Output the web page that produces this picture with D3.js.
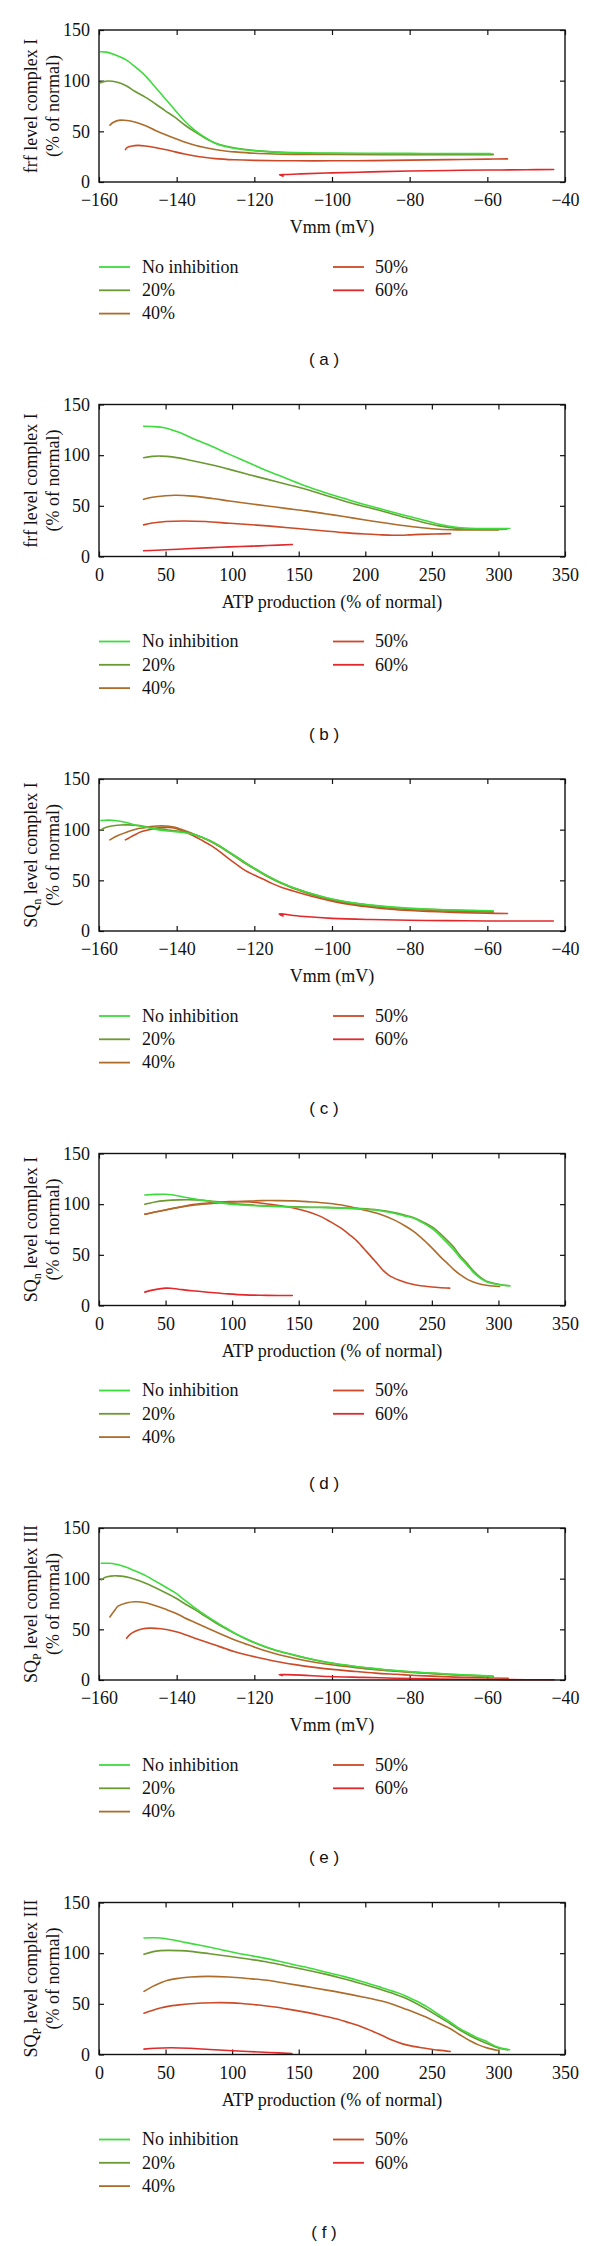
<!DOCTYPE html>
<html><head><meta charset="utf-8">
<script src="https://cdn.jsdelivr.net/npm/d3@7"></script>
<style>
body{margin:0;background:#fff;}
svg text{font-family:"Liberation Serif","Times New Roman",serif;fill:#111;}
</style>
</head><body>
<svg id="chart" width="600" height="2246"></svg>
<script>
// ---------- tick values ----------
const vmmTicks = [-160,-140,-120,-100,-80,-60,-40];
const atpTicks = [0,50,100,150,200,250,300,350];
const yTicks = [0,50,100,150];
const seriesNames = ["No inhibition","20%","40%","50%","60%"];
const panelLabels = ["a","b","c","d","e","f"];

// ---------- (a) frf level complex I vs Vmm ----------
const a_none = [[-159.6,128.6],[-158,128.2],[-155.9,125.6],[-153,120.5],[-150.8,114],[-148,104.5],[-145.6,94],[-143,82.5],[-140.4,70.9],[-138,60.5],[-135.3,51],[-132.5,43.5],[-130.1,38.3],[-127.5,35],[-125,33],[-122,31.6],[-119.8,30.8],[-115,29.7],[-109.5,29],[-100,28.5],[-90,28.3],[-80,28.2],[-70,28.1],[-59.2,28]];
const a_20 = [[-159.6,97.8],[-159,98.8],[-157.6,99.6],[-155.5,98.6],[-153,95],[-150.8,89.5],[-148,83.5],[-145.6,77.5],[-143,70.5],[-140.4,63.7],[-138,56.5],[-135.3,49.4],[-132.5,43],[-130.1,38.5],[-127.5,35.5],[-125,33.5],[-122,32],[-119.8,31],[-115,29.5],[-110,28.6],[-100,28],[-90,27.8],[-80,27.6],[-70,27.5],[-58.5,27.4]];
const a_40 = [[-157.2,56],[-156.5,58.5],[-155,60.8],[-153.5,61],[-150.8,59.3],[-148,55.5],[-145.6,51.1],[-143,46.8],[-140.4,42.9],[-138,39.5],[-135.3,36.3],[-132.5,33.8],[-130.1,32],[-127.5,30.6],[-125,29.7],[-120,28.3],[-115,27.6],[-110,27.3],[-100,27.1],[-80,27],[-58.5,27]];
const a_50 = [[-153.2,32],[-152.8,34],[-151.5,35.6],[-149.9,36.1],[-148,35.5],[-145.6,34],[-143,32],[-140.4,29.7],[-138,27.6],[-135.3,25.7],[-132.5,24.2],[-130.1,23.1],[-125,21.9],[-120,21.3],[-110,20.9],[-100,20.9],[-90,21.1],[-80,21.6],[-70,22.1],[-60,22.6],[-54.8,22.8]];
const a_60 = [[-112.6,5.8],[-113.5,7.0],[-112,7.4],[-108,8.0],[-100,9.0],[-90,10.0],[-80,10.8],[-70,11.4],[-60,11.8],[-50,12.1],[-42.9,12.3]];

// ---------- (b) frf level complex I vs ATP ----------
const b_none = [[33.5,128.6],[40,128.3],[49.3,127],[60,122.5],[69.3,117.2],[85,108.5],[98,100.8],[115,91],[126.6,84.3],[140,77.5],[155.3,69.6],[170,63],[183.9,57.4],[200,51],[212.5,46.6],[230,40.5],[241.2,36.8],[255.5,31.8],[269.8,28.6],[284.2,27.6],[300,27.5],[308.5,27.6]];
const b_20 = [[33.5,97.5],[40,98.8],[46.4,99.1],[55,98.3],[69.3,94.8],[85,90.3],[98,86],[112,81],[126.6,76.1],[140,71.5],[155.3,66.3],[170,60.5],[183.9,54.8],[200,49],[212.5,45],[230,38.5],[241.2,34.5],[255.5,30.2],[269.8,27.6],[285,26.8],[300,26.8],[306,27]];
const b_40 = [[33.5,56.4],[40,58.5],[50,60],[57.9,60.4],[70,59.6],[85,57.3],[98,54.8],[112,52.3],[126.6,49.9],[140,47.5],[155.3,45],[170,42.2],[183.9,39.4],[200,36],[212.5,33.5],[230,30.3],[241.2,28.6],[255.5,26.9],[269.8,26.3],[285,26.2],[300,26.3]];
const b_50 = [[33.5,31.2],[40,33],[50,34.5],[63.6,35.1],[80,34.5],[98,32.8],[112,31.6],[126.6,30.2],[140,28.6],[155.3,26.9],[170,25.2],[183.9,23.6],[200,22.2],[212.5,21.3],[221,21],[232,21.3],[241.2,21.8],[252,22.2],[264.1,22.6]];
const b_60 = [[33.5,5.6],[50,6.6],[69.3,7.9],[85,8.8],[98,9.5],[115,10.2],[126.6,10.8],[145.2,11.8]];

// ---------- (c) SQn level complex I vs Vmm ----------
const c_none = [[-159.5,109],[-157.5,109.4],[-155.9,109],[-153,107],[-150.8,104.7],[-148,102.3],[-145.6,100.5],[-143,99],[-140.4,98.1],[-138,97],[-136.1,95.8],[-133.5,92.5],[-131,88.2],[-128.8,83.5],[-126.7,78.3],[-124.5,72.8],[-122.4,67.4],[-120.2,62.2],[-118.1,57.5],[-116,53],[-113.8,48.8],[-111.5,45],[-109.5,42],[-105,36.5],[-100,31.5],[-95,28],[-90,25.5],[-85,23.8],[-80,22.5],[-70,21],[-58.7,20]];
const c_20 = [[-159.5,99.8],[-158.5,101.8],[-156.8,103.7],[-154.5,104.6],[-152.5,104.7],[-150,104.2],[-148.2,103],[-146,101.7],[-143.9,100.5],[-141,99.2],[-138.7,98.1],[-136.1,96],[-133.5,92.6],[-131,88.4],[-128.8,83.6],[-126.7,78.4],[-124.5,73],[-122.4,67.6],[-120.2,62.4],[-118.1,57.6],[-116,53.1],[-113.8,48.9],[-111.5,45.1],[-109.5,42.1],[-105,36.4],[-100,31.3],[-95,27.8],[-90,25.3],[-85,23.5],[-80,22.2],[-70,20.7],[-58.5,19.6]];
const c_40 = [[-157.2,89.9],[-155,94.5],[-152.5,98.1],[-150.5,100.5],[-148.2,102],[-146,103.3],[-143.9,103.7],[-142,103.4],[-140.4,102.4],[-138.5,100],[-136.1,96.5],[-133.5,92.4],[-131,87.8],[-128.8,83],[-126.7,77.8],[-124.5,72.3],[-122.4,66.9],[-120.2,61.8],[-118.1,57],[-116,52.5],[-113.8,48.3],[-111.5,44.5],[-109.5,41.4],[-105,35.6],[-100,30.6],[-95,27],[-90,24.4],[-85,22.5],[-80,21.2],[-70,19.6],[-58.5,18.6]];
const c_50 = [[-153.2,89.9],[-151,94.5],[-149,98.1],[-146.5,100.5],[-143.9,102],[-142,102.2],[-140.4,101.5],[-138.5,98.8],[-136.1,94.8],[-133.5,89.5],[-131,84],[-128.8,78],[-126.7,71.7],[-124.5,65.5],[-122.4,59.8],[-120.2,55.5],[-118.1,51.9],[-115.5,47],[-112.9,43],[-110,39.5],[-105,34],[-100,29.5],[-95,26],[-90,23.5],[-85,21.5],[-80,20.2],[-70,18.5],[-60,17.5],[-54.8,17.2]];
const c_60 = [[-112.6,14.8],[-113.6,16.8],[-112,16.6],[-110.5,15.6],[-107,14.3],[-100,12.5],[-90,11.3],[-80,10.6],[-70,10.2],[-60,9.9],[-50,9.8],[-43,9.8]];

// ---------- (d) SQn level complex I vs ATP ----------
const d_none = [[34.4,109.1],[42,109.7],[49.8,109.8],[56,109],[62.3,107.4],[70,105.5],[79.7,103.5],[90,101.5],[99.6,99.9],[110,98.9],[122,98.3],[135,97.6],[146.9,97],[160,96.7],[171.8,96.6],[185,96],[196.7,95.3],[210,93.8],[221.6,91.1],[230,88.2],[236.5,86.1],[244,81],[251.5,74.6],[259,65],[266.4,54.9],[271,47.5],[276.3,40.1],[281,33],[286.3,27],[291,23.5],[296.3,21.4],[302,20.2],[308.7,19.4]];
const d_20 = [[34.4,99.9],[42,102.2],[49.8,103.5],[60,104.2],[72.2,104.2],[82,103.3],[92.2,101.9],[105,100],[122,98.6],[135,98],[146.9,97.4],[160,97],[171.8,96.8],[185,96.2],[196.7,95.6],[210,94.2],[221.6,91.7],[230,89],[236.5,86.5],[244,82],[251.5,76.3],[259,67.5],[266.4,57.6],[271,49.5],[276.3,41.8],[281,34.5],[286.3,28],[291,24],[296.3,22],[302,20.5],[307.2,19.7]];
const d_40 = [[34.4,90],[42,92.2],[49.8,94.3],[60,96.8],[72.2,99.2],[85,100.8],[97.6,101.9],[110,102.8],[122,103.5],[135,103.5],[146.9,103.2],[160,102.2],[171.8,100.9],[185,98.5],[196.7,95],[210,90.5],[221.6,84.5],[230,78.5],[236.5,72.9],[244,64.5],[251.5,54.9],[256.5,48],[261.5,41.8],[266.5,35.5],[271.4,30.3],[277,25.5],[283.9,22],[292,19.8],[300.9,18.7]];
const d_50 = [[34.4,90],[42,92.2],[49.8,94.3],[60,97],[72.2,99.9],[85,101.5],[97.6,102.5],[109.6,102.5],[118,101.7],[127,100.2],[137,98.3],[146.9,96],[157,92.5],[166.8,87.7],[174,82.5],[181.8,76.3],[188,70],[194.2,63.1],[199,56],[204.2,48.5],[208,42.8],[211.3,37.8],[214.2,33.6],[217.3,30.3],[221,27.5],[225.5,25],[231.5,22.3],[238,20.3],[246.5,18.8],[255,17.8],[263.4,17.1]];
const d_60 = [[34.4,13.2],[40,15.2],[49.8,17.1],[54,17],[59.7,16.1],[70,14.5],[84.7,12.8],[97,11.5],[109.6,10.5],[122,10.1],[134.4,9.9],[145.2,9.9]];

// ---------- (e) SQp level complex III vs Vmm ----------
const e_none = [[-159.4,115.2],[-157.5,115.2],[-155.9,114.5],[-153.5,112],[-150.8,107.8],[-148,103],[-145.6,97.8],[-143,92],[-140.4,86.2],[-138,79],[-135.3,71.2],[-132.7,64.2],[-130.1,57.8],[-127.5,51.8],[-125,46.2],[-122.4,41.2],[-119.8,36.8],[-115,30],[-109.5,24.5],[-104.5,20],[-99.2,16.2],[-94,13.4],[-88.8,11.2],[-83.5,9.3],[-78.5,7.8],[-73,6.5],[-68.2,5.5],[-63,4.6],[-58.7,3.8]];
const e_20 = [[-159.4,98.8],[-158.5,101.2],[-157,102.5],[-155.5,102.8],[-153,101.8],[-150.8,99.5],[-148,95.5],[-145.6,91.2],[-143,86.3],[-140.4,81.2],[-138,75.5],[-135.3,69.5],[-132.7,63],[-130.1,56.8],[-127.5,51],[-125,45.8],[-122.4,41],[-119.8,36.5],[-115,29.8],[-109.5,24.3],[-104.5,19.8],[-99.2,16],[-94,13.2],[-88.8,11],[-83.5,9.1],[-78.5,7.6],[-73,6.3],[-68.2,5.3],[-63,4.4],[-58.5,3.6]];
const e_40 = [[-157.2,62.2],[-156,68.5],[-155.1,72.8],[-153,76],[-150.8,77.2],[-148,76.3],[-145.6,73.5],[-143,70],[-140.4,66.2],[-138,61.5],[-135.3,56.8],[-132.7,52.3],[-130.1,47.8],[-127.5,43.5],[-125,39.5],[-122.4,35.8],[-119.8,32.2],[-115,26.3],[-109.5,21.2],[-104.5,17.5],[-99.2,14.5],[-94,12.2],[-88.8,10.2],[-83.5,8.6],[-78.5,7.2],[-73,6],[-68.2,5],[-63,4.1],[-58.5,3.5]];
const e_50 = [[-152.9,41.2],[-152,45],[-150.8,47.8],[-149,50.3],[-146.9,51.2],[-144,50.5],[-140.4,47.8],[-138,45],[-135.3,41.2],[-132.7,37.8],[-130.1,34.5],[-127.5,31],[-125,27.8],[-122.4,25.2],[-119.8,22.8],[-115,18.8],[-109.5,15.2],[-104.5,12.5],[-99.2,10.2],[-94,8.4],[-88.8,6.8],[-83.5,5.6],[-78.5,4.5],[-73,3.6],[-68.2,2.8],[-62,2.2],[-54.6,1.8]];
const e_60 = [[-112.8,4.4],[-113.6,5.4],[-112,5.3],[-108,4.8],[-100.9,3.5],[-92,2.6],[-83.7,1.8],[-75,1.2],[-66.5,0.8],[-55,0.4],[-42.8,0.2]];

// ---------- (f) SQp level complex III vs ATP ----------
const f_none = [[33.8,115],[40,115.2],[45.9,115],[55,113.2],[63.1,111],[75,108],[86.1,105.1],[95,102.5],[103.3,100.2],[115,97.3],[126.2,94.6],[140,90.6],[154.9,86.3],[170,81.5],[183.6,77.1],[198,71.8],[212.3,66],[221,62.3],[229.5,58.3],[238,53],[246.7,46.8],[255,39.5],[263.9,31.9],[271,25.5],[278.3,20.5],[284,16.5],[289.7,13.8],[295,10],[300,7.2],[304,5.8],[308.4,4.6]];
const f_20 = [[33.8,98.9],[40,101.3],[46,102.5],[51.6,102.8],[60,102.5],[68.8,101.8],[83,99.5],[97.5,96.9],[112,94.2],[126.2,91.3],[140,87.6],[154.9,83.7],[170,79.3],[183.6,74.8],[198,69.5],[212.3,63.9],[221,60.2],[229.5,56],[238,50.5],[246.7,44.1],[255,37.5],[263.9,30.3],[271,24.2],[278.3,18.8],[284,15],[290,11.5],[295,8.8],[300,6.5],[304,5.2],[307,4.6]];
const f_40 = [[33.8,62.3],[40,67],[46,70.5],[51.6,73.2],[60,75.2],[68.8,76.5],[81.8,77.1],[97.5,76.5],[112,75],[126.2,73.2],[140,70.3],[154.9,67.2],[170,63.8],[183.6,60.6],[198,56.8],[212.3,52.7],[221,49.3],[229.5,45.2],[238,41],[246.7,36.3],[255,31],[263.9,25.4],[271,19.5],[278.3,13.8],[285,9.5],[292,6.3],[299.8,4]];
const f_50 = [[33.8,40.8],[40,43.5],[46,45.8],[51.6,47.5],[60,49],[68.8,50.1],[86.1,51.1],[100,50.9],[109,50.1],[120,48.8],[132,46.8],[143,44.5],[154.9,41.8],[166,38.8],[177.9,35.3],[188,31.3],[197.9,27],[205,23.2],[212.3,19],[220,14.2],[228,10.5],[236,8],[245,6.2],[255,4.3],[263.9,3]];
const f_60 = [[33.8,5.3],[42,6.2],[54.5,6.6],[68,6.1],[83.2,4.9],[97,4],[111.9,3],[128,2],[144.9,1]];

// ---------- styling (not data) ----------
const colors = ["#3ddc3d","#6b9a32","#ad6c2a","#cc4a28","#e2282a"];
const left = 99, right = 565, plotH = 152, firstTop = 30, pitch = 374.5;

const panels = [
  {xType:"vmm", title:["frf level complex I"], sub:false, series:[a_none,a_20,a_40,a_50,a_60]},
  {xType:"atp", title:["frf level complex I"], sub:false, series:[b_none,b_20,b_40,b_50,b_60]},
  {xType:"vmm", title:["SQ","n"," level complex I"], sub:true, series:[c_none,c_20,c_40,c_50,c_60]},
  {xType:"atp", title:["SQ","n"," level complex I"], sub:true, series:[d_none,d_20,d_40,d_50,d_60]},
  {xType:"vmm", title:["SQ","P"," level complex III"], sub:true, series:[e_none,e_20,e_40,e_50,e_60]},
  {xType:"atp", title:["SQ","P"," level complex III"], sub:true, series:[f_none,f_20,f_40,f_50,f_60]}
];

const svg = d3.select("#chart");
svg.append("rect").attr("width",600).attr("height",2246).attr("fill","#fff");

panels.forEach((p,i)=>{
  const top = firstTop + i*pitch, bottom = top + plotH;
  const g = svg.append("g");
  const x = p.xType==="vmm"
    ? d3.scaleLinear().domain([-160,-40]).range([left,right])
    : d3.scaleLinear().domain([0,350]).range([left,right]);
  const xt = p.xType==="vmm" ? vmmTicks : atpTicks;
  const y = d3.scaleLinear().domain([0,150]).range([bottom,top]);

  const fmt = d => (d<0 ? "\u2212"+Math.abs(d) : String(d));
  const styleAxis = sel => {
    sel.select(".domain").remove();
    sel.selectAll("line").attr("stroke","#111").attr("stroke-width",1.2);
    sel.selectAll("text").attr("font-family","Liberation Serif, serif").attr("font-size",18).attr("fill","#111");
  };
  g.append("g").attr("transform",`translate(0,${bottom})`)
    .call(d3.axisBottom(x).tickValues(xt).tickFormat(fmt).tickSize(-5).tickPadding(11.5)).call(styleAxis);
  g.append("g").attr("transform",`translate(0,${top})`)
    .call(d3.axisTop(x).tickValues(xt).tickFormat("").tickSize(-5)).call(styleAxis);
  g.append("g").attr("transform",`translate(${left},0)`)
    .call(d3.axisLeft(y).tickValues(yTicks).tickFormat(fmt).tickSize(-5).tickPadding(9)).call(styleAxis);
  g.append("g").attr("transform",`translate(${right},0)`)
    .call(d3.axisRight(y).tickValues(yTicks).tickFormat("").tickSize(-5)).call(styleAxis);

  // curves
  const line = d3.line().x(d=>x(d[0])).y(d=>y(d[1])).curve(d3.curveCatmullRom.alpha(0.5));
  [4,3,2,1,0].forEach(k=>{
    g.append("path").datum(p.series[k]).attr("d",line)
      .attr("fill","none").attr("stroke",colors[k]).attr("stroke-width",1.6)
      .attr("stroke-linejoin","round").attr("stroke-linecap","round");
  });

  // frame
  g.append("rect").attr("x",left).attr("y",top).attr("width",right-left).attr("height",plotH)
    .attr("fill","none").attr("stroke","#111").attr("stroke-width",1.4);

  // x title
  g.append("text").attr("x",(left+right)/2).attr("y",bottom+51).attr("text-anchor","middle")
    .attr("font-size",18).text(p.xType==="vmm" ? "Vmm (mV)" : "ATP production (% of normal)");

  // y title (two lines, rotated)
  const cy = (top+bottom)/2;
  const t1 = g.append("text").attr("transform",`translate(37,${cy}) rotate(-90)`)
    .attr("text-anchor","middle").attr("font-size",18);
  if(!p.sub){ t1.text(p.title[0]); }
  else {
    t1.append("tspan").text(p.title[0]);
    t1.append("tspan").attr("font-size",12).attr("dy",4).text(p.title[1]);
    t1.append("tspan").attr("dy",-4).text(p.title[2]);
  }
  g.append("text").attr("transform",`translate(59,${cy}) rotate(-90)`)
    .attr("text-anchor","middle").attr("font-size",18).text("(% of normal)");

  // legend
  const rows = [0,23.3,46.6];
  const lgX = [[99,130,142],[333,364,375]];
  seriesNames.forEach((name,k)=>{
    const col = k<3 ? 0 : 1, row = k<3 ? k : k-3;
    const ly = bottom + 85 + rows[row];
    g.append("line").attr("x1",lgX[col][0]).attr("x2",lgX[col][1]).attr("y1",ly).attr("y2",ly)
      .attr("stroke",colors[k]).attr("stroke-width",1.8);
    g.append("text").attr("x",lgX[col][2]).attr("y",ly+5.8).attr("font-size",18).text(name);
  });

  // panel label
  g.append("text").attr("x",324).attr("y",bottom+183).attr("text-anchor","middle")
    .style("font-family","Liberation Sans, Arial, sans-serif").attr("font-size",17)
    .text(`( ${panelLabels[i]} )`);
});
</script>
</body></html>
